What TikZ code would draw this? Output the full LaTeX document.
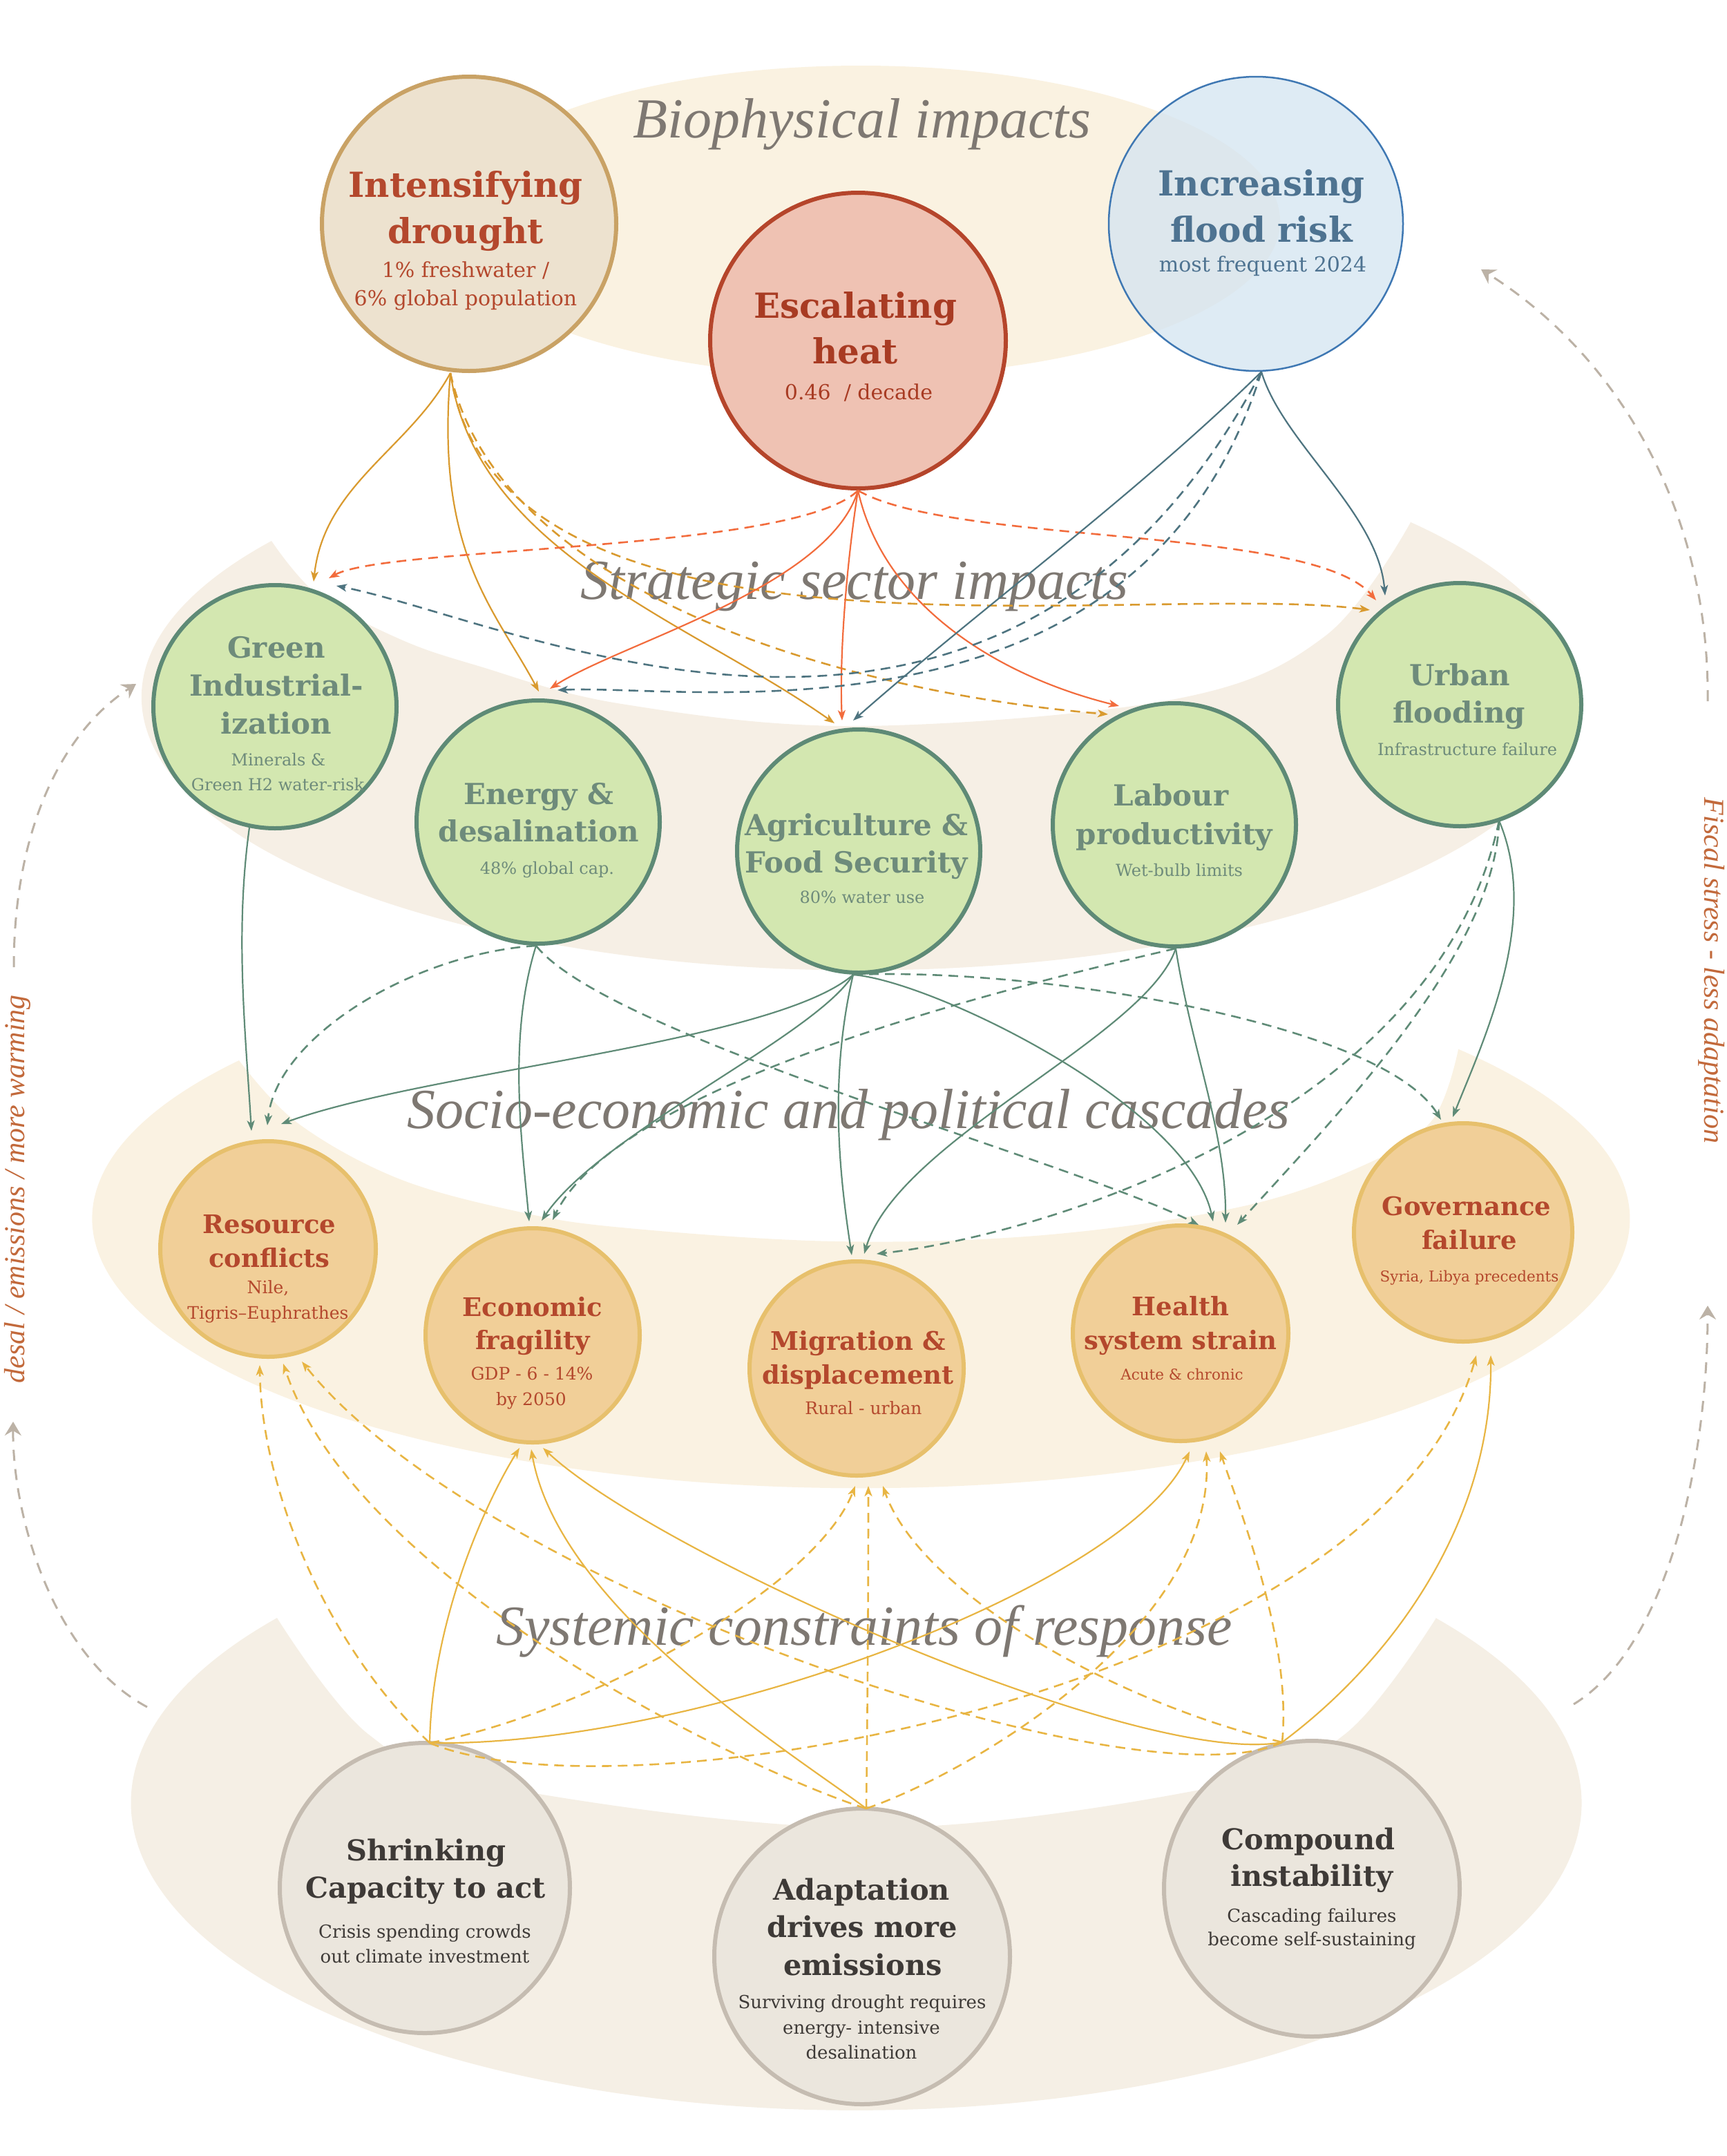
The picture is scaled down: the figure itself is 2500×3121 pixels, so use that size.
\documentclass[tikz,border=0pt]{standalone}
\usepackage{fontspec}
\setmainfont{DejaVu Serif}
\newfontfamily\ttlfont{Liberation Serif}
\usetikzlibrary{arrows.meta,calc}
\definecolor{bandA}{HTML}{FAF2E1}
\definecolor{bandB}{HTML}{F6EFE5}
\definecolor{bandC}{HTML}{FAF2E2}
\definecolor{bandD}{HTML}{F5EFE5}
\definecolor{fDr}{HTML}{EDE2CF}
\definecolor{bDr}{HTML}{C9A265}
\definecolor{fHt}{HTML}{EFC2B3}
\definecolor{bHt}{HTML}{B5452B}
\definecolor{fFl}{HTML}{D5E5F1}
\definecolor{bFl}{HTML}{3F78B3}
\definecolor{fGr}{HTML}{D3E7B0}
\definecolor{bGr}{HTML}{5E8A76}
\definecolor{fOr}{HTML}{F1CF98}
\definecolor{bOr}{HTML}{E7C06C}
\definecolor{fGy}{HTML}{EBE6DD}
\definecolor{bGy}{HTML}{C5BCB1}
\definecolor{cDr}{HTML}{D99A2F}
\definecolor{cHt}{HTML}{F26C3D}
\definecolor{cFl}{HTML}{4E7480}
\definecolor{cGr}{HTML}{5F8B77}
\definecolor{cYe}{HTML}{E8B543}
\definecolor{cSide}{HTML}{BCB2A6}
\definecolor{tRust}{HTML}{B4482D}
\definecolor{tHeat}{HTML}{A83B23}
\definecolor{tFlood}{HTML}{4E7391}
\definecolor{tGreen}{HTML}{6E8B7B}
\definecolor{tDark}{HTML}{3E3A37}
\definecolor{tTitle}{HTML}{7E7872}
\definecolor{tSide}{HTML}{C2693B}
\tikzset{
  circ/.style={circle, inner sep=0pt},
  drC/.style={circ, fill=fDr, draw=bDr, line width=6pt, minimum size=426pt},
  htC/.style={circ, fill=fHt, draw=bHt, line width=6pt, minimum size=428pt},
  flC/.style={circ, fill=fFl, fill opacity=0.78, draw=bFl, draw opacity=1, line width=2.5pt, minimum size=426pt},
  grC/.style={circ, fill=fGr, draw=bGr, line width=6pt, minimum size=352pt},
  orC/.style={circ, fill=fOr, draw=bOr, line width=6pt, minimum size=#1},
  gyC/.style={circ, fill=fGy, draw=bGy, line width=6pt, minimum size=#1},
  txt/.style={anchor=base, inner sep=0pt, align=center},
  hdA/.style={txt, font=\fontsize{50}{60}\selectfont\bfseries},
  sbA/.style={txt, font=\fontsize{30}{36}\selectfont},
  hdG/.style={txt, font=\fontsize{42}{50}\selectfont\bfseries, text=tGreen},
  sbG/.style={txt, font=\fontsize{24}{29}\selectfont, text=tGreen},
  hdO/.style={txt, font=\fontsize{37}{44}\selectfont\bfseries, text=tRust},
  sbO/.style={txt, font=\fontsize{25}{30}\selectfont, text=tRust},
  sbOs/.style={txt, font=\fontsize{21.5}{26}\selectfont, text=tRust},
  hdS/.style={txt, font=\fontsize{41.5}{50}\selectfont\bfseries, text=tDark},
  sbS/.style={txt, font=\fontsize{26}{31}\selectfont, text=tDark},
  ttl/.style={txt, font=\ttlfont\itshape\fontsize{82}{98}\selectfont, text=tTitle},
  sidetxt/.style={inner sep=0pt, font=\ttlfont\itshape\fontsize{42}{50}\selectfont, text=tSide},
  arr/.style={-{Stealth[length=15pt,width=11pt,inset=4pt]}},
  sol/.style={arr, line width=2.2pt},
  dsh/.style={arr, line width=2.6pt, dash pattern=on 14pt off 9pt},
  side/.style={cSide, line width=3pt, dash pattern=on 16pt off 12pt, -{Stealth[length=20pt,width=24pt,inset=7pt]}},
}
\begin{document}
\begin{tikzpicture}[x=1pt,y=-1pt]
\useasboundingbox (0,0) rectangle (2500,3121);
% ---------- bands ----------
\fill[bandD] (401,2342) arc[start angle=217, end angle=-37, x radius=1050, y radius=445]
  -- plot[smooth, tension=0.6] coordinates {(2079,2342) (1946,2511) (1762,2586) (1260,2646) (718,2586) (534,2511) (401,2342)} -- cycle;
\fill[bandC] (346,1535) arc[start angle=216, end angle=-39, x radius=1113, y radius=390]
  -- plot[smooth, tension=0.6] coordinates {(2111,1519) (2072,1623) (1967,1690) (1791,1748) (1510,1788) (1210,1797) (900,1777) (746,1753) (574,1705) (430,1625) (346,1535)} -- cycle;
\fill[bandB] (393,783) arc[start angle=215, end angle=-40, x radius=1040, y radius=395]
  -- plot[smooth, tension=0.6] coordinates {(2042,756) (1918,921) (1701,1012) (1245,1051) (900,1019) (689,963) (574,923) (459,860) (393,783)} -- cycle;
\fill[bandA] (1246,320) ellipse [x radius=607, y radius=225];
% ---------- titles ----------
\node[ttl] (tBio) at (1248,199) {Biophysical impacts};
\node[ttl] (tStr) at (1237,867) {Strategic sector impacts};
\node[ttl] (tSoc) at (1228,1633) {Socio-economic and political cascades};
\node[ttl] (tSys) at (1251,2381) {Systemic constraints of response};
% ---------- circles ----------
\node[drC] (dr) at (679,324) {};
\node[htC] (ht) at (1242,493) {};
\node[flC] (fl) at (1818,324) {};
\node[grC] (gi) at (398,1023) {};
\node[grC] (en) at (779,1190) {};
\node[grC] (ag) at (1243,1232) {};
\node[grC] (lb) at (1700,1194) {};
\node[grC] (ub) at (2113,1020) {};
\node[orC=312pt] (rc) at (388,1808) {};
\node[orC=310pt] (ec) at (771,1933) {};
\node[orC=310pt] (mg) at (1240,1981) {};
\node[orC=312pt] (hs) at (1709,1930) {};
\node[orC=316pt] (gv) at (2118,1784) {};
\node[gyC=420pt] (sk) at (615,2733) {};
\node[gyC=428pt] (ad) at (1248,2832) {};
\node[gyC=428pt] (cp) at (1899,2734) {};
% ---------- connector end points ----------
\coordinate (drO) at ($(dr.south)+(-27,0)$);
\coordinate (htO) at (ht.south);
\coordinate (flO) at ($(fl.south)+(8,0)$);
\coordinate (giO) at ($(gi.south)+(-37,-4)$);
\coordinate (enO) at ($(en.south)+(-3,0)$);
\coordinate (agO) at ($(ag.south)+(-8,0)$);
\coordinate (lbO) at ($(lb.south)+(2,0)$);
\coordinate (ubO) at ($(ub.south)+(57,-11)$);
\coordinate (skO) at ($(sk.north)+(7,3)$);
\coordinate (adO) at ($(ad.north)+(6,3)$);
\coordinate (cpO) at ($(cp.north)+(-43,5)$);
\coordinate (giI1) at ($(gi.north)+(56,-2)$);
\coordinate (giI2) at ($(gi.north)+(78,-7)$);
\coordinate (giI3) at ($(gi.north)+(89,4)$);
\coordinate (enI1) at ($(en.north)+(1,-10)$);
\coordinate (enI2) at ($(en.north)+(17,-14)$);
\coordinate (enI3) at ($(en.north)+(28,-12)$);
\coordinate (agI1) at ($(ag.north)+(-35,-6)$);
\coordinate (agI2) at ($(ag.north)+(-24,-10)$);
\coordinate (agI3) at ($(ag.north)+(-8,-10)$);
\coordinate (lbI1) at ($(lb.north)+(-96,19)$);
\coordinate (lbI2) at ($(lb.north)+(-80,7)$);
\coordinate (ubI1) at ($(ub.north)+(-130,42)$);
\coordinate (ubI2) at ($(ub.north)+(-121,28)$);
\coordinate (ubI3) at ($(ub.north)+(-108,21)$);
\coordinate (rcI1) at ($(rc.north)+(-24,-12)$);
\coordinate (rcI2) at ($(rc.north)+(-1,-20)$);
\coordinate (rcI3) at ($(rc.north)+(19,-22)$);
\coordinate (ecI1) at ($(ec.north)+(-5,-7)$);
\coordinate (ecI2) at ($(ec.north)+(13,-8)$);
\coordinate (ecI3) at ($(ec.north)+(29,-9)$);
\coordinate (mgI1) at ($(mg.north)+(-7,-6)$);
\coordinate (mgI2) at ($(mg.north)+(11,-8)$);
\coordinate (mgI3) at ($(mg.north)+(29,-8)$);
\coordinate (hsI1) at ($(hs.north)+(26,2)$);
\coordinate (hsI2) at ($(hs.north)+(47,-3)$);
\coordinate (hsI3) at ($(hs.north)+(65,-1)$);
\coordinate (hsI4) at ($(hs.north)+(82,2)$);
\coordinate (gvI1) at ($(gv.north)+(-32,-2)$);
\coordinate (gvI2) at ($(gv.north)+(-15,-6)$);
\coordinate (rcB1) at ($(rc.south)+(-12,9)$);
\coordinate (rcB2) at ($(rc.south)+(22,7)$);
\coordinate (rcB3) at ($(rc.south)+(49,4)$);
\coordinate (ecB1) at ($(ec.south)+(-19,5)$);
\coordinate (ecB2) at ($(ec.south)+(-2,7)$);
\coordinate (ecB3) at ($(ec.south)+(15,5)$);
\coordinate (mgB1) at ($(mg.south)+(-2,12)$);
\coordinate (mgB2) at ($(mg.south)+(17,12)$);
\coordinate (mgB3) at ($(mg.south)+(38,12)$);
\coordinate (hsB1) at ($(hs.south)+(13,12)$);
\coordinate (hsB2) at ($(hs.south)+(37,12)$);
\coordinate (hsB3) at ($(hs.south)+(57,12)$);
\coordinate (gvB1) at ($(gv.south)+(19,17)$);
\coordinate (gvB2) at ($(gv.south)+(40,17)$);
% ---------- biophysical -> strategic ----------
\draw[cDr, sol] (drO) .. controls (592,650) and (469,702) .. (giI1);
\draw[cDr, sol] (drO) .. controls (630,800) and (715,880) .. (enI1);
\draw[cDr, sol] (drO) .. controls (690,800) and (1000,900) .. (agI1);
\draw[cDr, dsh] (drO) .. controls (720,1000) and (1650,840) .. (ubI1);
\draw[cDr, dsh] (drO) .. controls (720,850) and (1200,1000) .. (lbI1);
\draw[cHt, sol] (htO) .. controls (1200,850) and (900,930) .. (enI2);
\draw[cHt, sol] (htO) .. controls (1225,820) and (1215,950) .. (agI2);
\draw[cHt, sol] (htO) .. controls (1280,880) and (1450,980) .. (lbI2);
\draw[cHt, dsh] (htO) .. controls (1150,800) and (560,790) .. (giI2);
\draw[cHt, dsh] (htO) .. controls (1380,790) and (1900,760) .. (ubI2);
\draw[cFl, sol] (flO) .. controls (1856,640) and (1995,742) .. (ubI3);
\draw[cFl, sol] (flO) .. controls (1640,720) and (1420,880) .. (agI3);
\draw[cFl, dsh] (flO) .. controls (1450,1250) and (750,900) .. (giI3);
\draw[cFl, dsh] (flO) .. controls (1650,1100) and (1000,990) .. (enI3);
% ---------- strategic -> socio ----------
\draw[cGr, sol] (giO) .. controls (340,1350) and (355,1490) .. (rcI1);
\draw[cGr, dsh] (enO) .. controls (600,1380) and (400,1500) .. (rcI2);
\draw[cGr, sol] (enO) .. controls (735,1500) and (755,1650) .. (ecI1);
\draw[cGr, dsh] (enO) .. controls (880,1500) and (1550,1680) .. (hsI1);
\draw[cGr, sol] (agO) .. controls (1120,1510) and (620,1550) .. (rcI3);
\draw[cGr, sol] (agO) .. controls (1180,1500) and (870,1640) .. (ecI2);
\draw[cGr, sol] (agO) .. controls (1200,1560) and (1215,1700) .. (mgI1);
\draw[cGr, sol] (agO) .. controls (1350,1420) and (1720,1600) .. (hsI2);
\draw[cGr, dsh] (agO) .. controls (1500,1400) and (2000,1480) .. (gvI1);
\draw[cGr, dsh] (lbO) .. controls (1500,1420) and (900,1560) .. (ecI3);
\draw[cGr, sol] (lbO) .. controls (1660,1500) and (1300,1650) .. (mgI2);
\draw[cGr, sol] (lbO) .. controls (1725,1520) and (1775,1640) .. (hsI3);
\draw[cGr, sol] (ubO) .. controls (2230,1330) and (2150,1500) .. (gvI2);
\draw[cGr, dsh] (ubO) .. controls (2165,1380) and (1930,1620) .. (hsI4);
\draw[cGr, dsh] (ubO) .. controls (2080,1620) and (1500,1790) .. (mgI3);
% ---------- systemic -> socio ----------
\draw[cYe, dsh] (skO) .. controls (470,2380) and (378,2150) .. (rcB1);
\draw[cYe, sol] (skO) .. controls (625,2350) and (700,2180) .. (ecB1);
\draw[cYe, dsh] (skO) .. controls (850,2480) and (1180,2300) .. (mgB1);
\draw[cYe, sol] (skO) .. controls (1000,2530) and (1630,2300) .. (hsB1);
\draw[cYe, dsh] (skO) .. controls (900,2640) and (2000,2450) .. (gvB1);
\draw[cYe, dsh] (adO) .. controls (1100,2570) and (520,2300) .. (rcB2);
\draw[cYe, sol] (adO) .. controls (1150,2540) and (810,2330) .. (ecB2);
\draw[cYe, dsh] (adO) .. controls (1256,2450) and (1257,2300) .. (mgB2);
\draw[cYe, dsh] (adO) .. controls (1420,2560) and (1760,2350) .. (hsB2);
\draw[cYe, dsh] (cpO) .. controls (1650,2620) and (700,2300) .. (rcB3);
\draw[cYe, sol] (cpO) .. controls (1650,2560) and (950,2250) .. (ecB3);
\draw[cYe, dsh] (cpO) .. controls (1600,2460) and (1330,2300) .. (mgB3);
\draw[cYe, dsh] (cpO) .. controls (1870,2380) and (1800,2200) .. (hsB3);
\draw[cYe, sol] (cpO) .. controls (2020,2400) and (2160,2200) .. (gvB2);
% ---------- feedback loops ----------
\coordinate (L1s) at (213,2471); \coordinate (L1e) at (19,2058);
\coordinate (L2s) at (20,1400);  \coordinate (L2e) at (197,990);
\coordinate (R1s) at (2472,1015); \coordinate (R1e) at (2144,390);
\coordinate (R2s) at (2278,2467); \coordinate (R2e) at (2472,1890);
\draw[side] (L1s) .. controls (80,2400) and (18,2200) .. (L1e);
\draw[side] (L2s) .. controls (20,1200) and (90,1060) .. (L2e);
\draw[side] (R1s) .. controls (2475,750) and (2350,520) .. (R1e);
\draw[side] (R2s) .. controls (2420,2380) and (2472,2100) .. (R2e);
\node[sidetxt, rotate=90] (sideL) at (25,1721) {desal / emissions / more warming};
\node[sidetxt, rotate=-90] (sideR) at (2478,1405) {Fiscal stress - less adaptation};
% ---------- texts ----------
\node[hdA, text=tRust] (dr1) at (674,285) {Intensifying};
\node[hdA, text=tRust] (dr2) at (674,352) {drought};
\node[sbA, text=tRust] (dr3) at (674,401) {1\% freshwater /};
\node[sbA, text=tRust] (dr4) at (674,442) {6\% global population};
\node[hdA, text=tHeat] (ht1) at (1238,460) {Escalating};
\node[hdA, text=tHeat] (ht2) at (1238,526) {heat};
\node[sbA, text=tHeat] (ht3) at (1243,578) {0.46\ \ / decade};
\node[hdA, text=tFlood] (fl1) at (1826,283) {Increasing};
\node[hdA, text=tFlood] (fl2) at (1826,350) {flood risk};
\node[sbA, text=tFlood] (fl3) at (1828,393) {most frequent 2024};
\node[hdG] (gi1) at (400,952) {Green};
\node[hdG] (gi2) at (400,1007) {Industrial-};
\node[hdG] (gi3) at (400,1062) {ization};
\node[sbG] (gi4) at (403,1108) {Minerals \&};
\node[sbG] (gi5) at (402,1144) {Green H2 water-risk};
\node[hdG] (en1) at (780,1164) {Energy \&};
\node[hdG] (en2) at (780,1218) {desalination};
\node[sbG] (en3) at (792,1265) {48\% global cap.};
\node[hdG] (ag1) at (1240,1209) {Agriculture \&};
\node[hdG] (ag2) at (1240,1263) {Food Security};
\node[sbG] (ag3) at (1248,1307) {80\% water use};
\node[hdG] (lb1) at (1695,1166) {Labour};
\node[hdG] (lb2) at (1700,1222) {productivity};
\node[sbG] (lb3) at (1707,1268) {Wet-bulb limits};
\node[hdG] (ub1) at (2113,992) {Urban};
\node[hdG] (ub2) at (2112,1046) {flooding};
\node[sbG] (ub3) at (2124,1093) {Infrastructure failure};
\node[hdO] (rc1) at (390,1785) {Resource};
\node[hdO] (rc2) at (390,1834) {conflicts};
\node[sbO] (rc3) at (388,1872) {Nile,};
\node[sbO] (rc4) at (388,1909) {Tigris–Euphrathes};
\node[hdO] (ec1) at (771,1905) {Economic};
\node[hdO] (ec2) at (771,1953) {fragility};
\node[sbO] (ec3) at (770,1997) {GDP - 6 - 14\%};
\node[sbO] (ec4) at (769,2034) {by 2050};
\node[hdO] (mg1) at (1242,1954) {Migration \&};
\node[hdO] (mg2) at (1242,2003) {displacement};
\node[sbO] (mg3) at (1250,2047) {Rural - urban};
\node[hdO] (hs1) at (1709,1904) {Health};
\node[hdO] (hs2) at (1709,1953) {system strain};
\node[sbOs] (hs3) at (1711,1997) {Acute \& chronic};
\node[hdO] (gv1) at (2123,1759) {Governance};
\node[hdO] (gv2) at (2127,1808) {failure};
\node[sbOs] (gv3) at (2127,1855) {Syria, Libya precedents};
\node[hdS] (sk1) at (617,2693) {Shrinking};
\node[hdS] (sk2) at (616,2747) {Capacity to act};
\node[sbS] (sk3) at (615,2805) {Crisis spending crowds};
\node[sbS] (sk4) at (615,2841) {out climate investment};
\node[hdS] (ad1) at (1247,2750) {Adaptation};
\node[hdS] (ad2) at (1248,2804) {drives more};
\node[hdS] (ad3) at (1249,2859) {emissions};
\node[sbS] (ad4) at (1248,2907) {Surviving drought requires};
\node[sbS] (ad5) at (1247,2944) {energy- intensive};
\node[sbS] (ad6) at (1247,2980) {desalination};
\node[hdS] (cp1) at (1894,2677) {Compound};
\node[hdS] (cp2) at (1899,2730) {instability};
\node[sbS] (cp3) at (1899,2782) {Cascading failures};
\node[sbS] (cp4) at (1899,2816) {become self-sustaining};
\end{tikzpicture}
\end{document}
